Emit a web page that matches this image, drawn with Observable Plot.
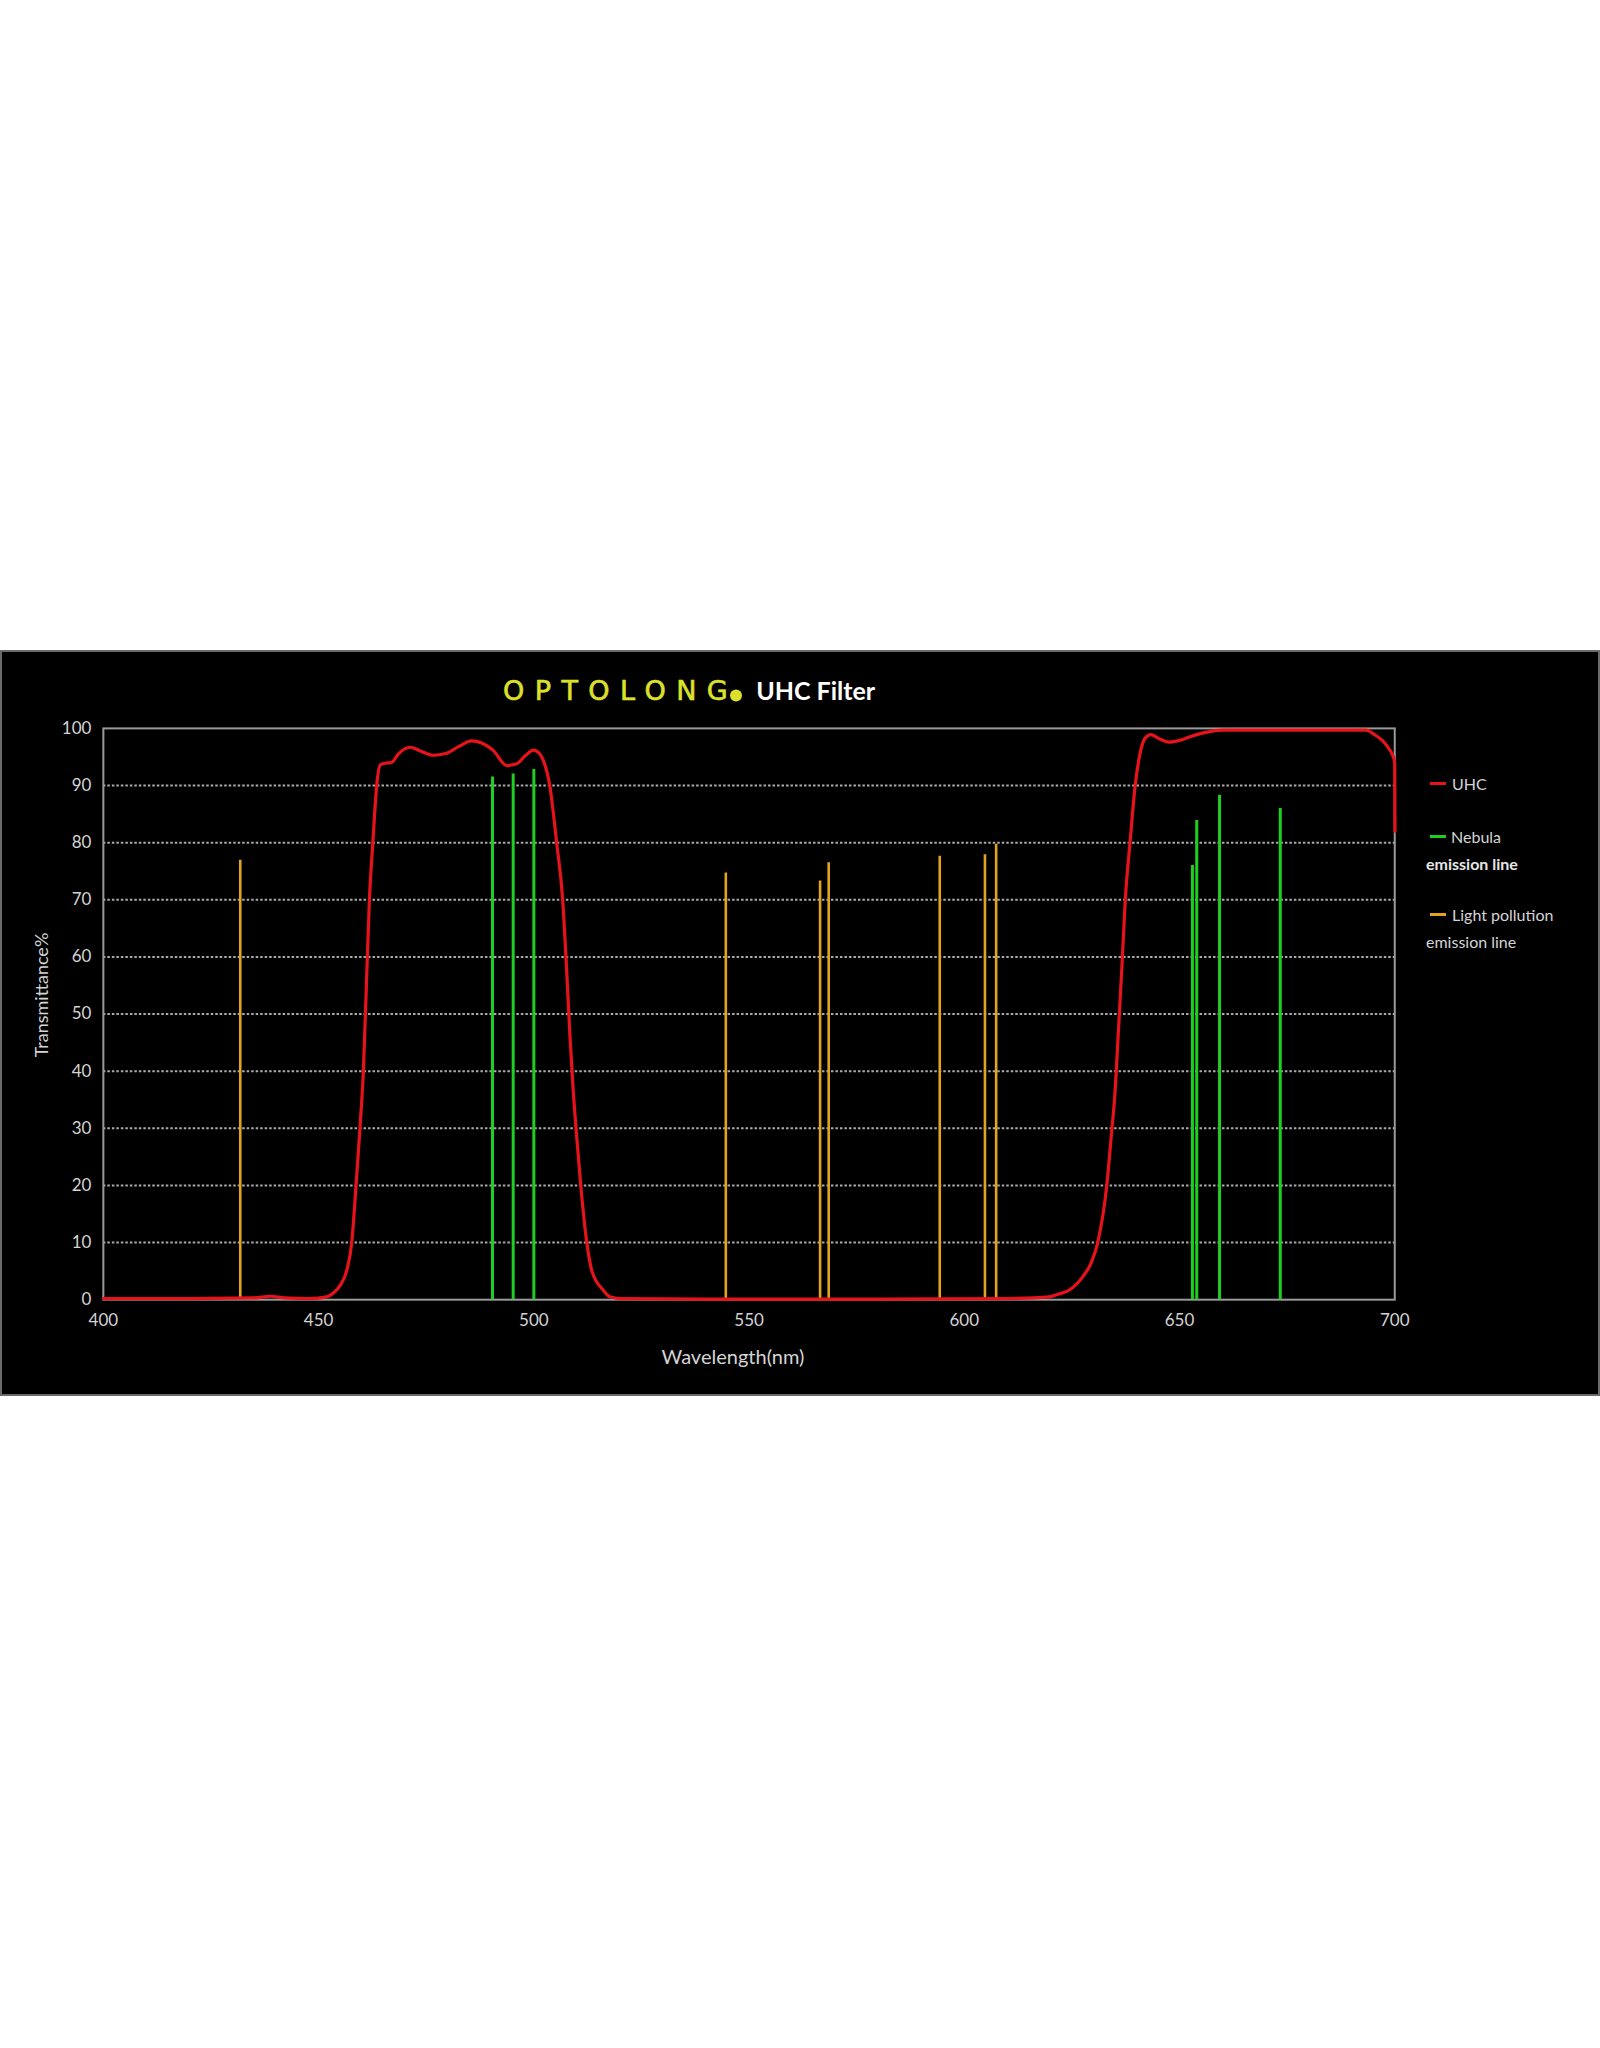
<!DOCTYPE html>
<html>
<head>
<meta charset="utf-8">
<script src="https://cdn.jsdelivr.net/npm/d3@7"></script>
<script src="https://cdn.jsdelivr.net/npm/@observablehq/plot@0.6"></script>
<style>
  html, body { margin: 0; padding: 0; background: #fff; width: 1600px; height: 2048px; font-family: Lato, "Open Sans", sans-serif; }
  #box { position: absolute; left: 0; top: 650px; width: 1600px; height: 746px; background: #000; box-sizing: border-box; border: 2px solid #6a6a6a; }
  #chart { position: absolute; left: -2px; top: -2px; }
  .t { position: absolute; white-space: nowrap; color: #d4d4d4; }
  .c { transform: translate(-50%, -50%); }
  .l { transform: translateY(-50%); }
  .sw { position: absolute; width: 16px; height: 3px; }
</style>
</head>
<body>
<div id="box">
  <div id="chart"></div>
</div>
<script>
// ---- data ----
const xTicks = [400, 450, 500, 550, 600, 650, 700];
const yTicks = [0, 10, 20, 30, 40, 50, 60, 70, 80, 90, 100];

// UHC filter transmission curve
const uhcWl = [400, 420, 435, 438.8, 442, 448, 451.9, 453.5, 455, 456.5, 457.7, 458.7, 459.6, 460.4, 461.1, 461.8, 462.6, 463.5, 464.3, 465.4, 466.9, 468.5, 471.3, 473.5, 476.7, 479.5, 482.5, 485.5, 488, 490.5, 493.7, 496, 498, 499.9, 501.3, 502.2, 503.7, 505.3, 506.7, 507.6, 508.4, 509.2, 509.8, 510.9, 512.3, 513.5, 516.1, 517.7, 520, 540, 580, 610, 619.8, 622, 624.4, 627.5, 629.5, 631.0, 633.1, 634.3, 634.9, 635.8, 636.6, 637.4, 638.5, 639.7, 640.8, 642, 643.4, 645, 647.6, 650, 652.3, 656.1, 660, 693.3, 695.5, 697.1, 698.5, 699.5, 700, 700.05];
const uhcT  = [0.2, 0.2, 0.3, 0.6, 0.3, 0.2, 0.5, 1.2, 2.5, 5, 10, 20, 30, 40, 55, 70, 80, 90, 93.6, 93.9, 94.0, 95.5, 96.7, 96.1, 95.3, 95.6, 96.8, 97.8, 97.4, 96.2, 93.5, 93.8, 95.2, 96.2, 95.6, 94.4, 90, 80, 70, 58, 46, 36, 30, 20, 10, 5, 1.7, 0.5, 0.2, 0.1, 0.1, 0.2, 0.5, 1, 1.7, 4, 6.5, 10, 20, 30, 35, 47, 58, 70, 80, 90, 95.5, 98.3, 98.9, 98.3, 97.6, 97.9, 98.5, 99.3, 99.7, 99.7, 98.8, 97.9, 96.6, 95.3, 94, 82];

// Nebula emission lines
const nebulaWl = [490.4, 495.2, 500.0, 653.0, 654.0, 659.3, 673.4];
const nebulaT  = [91.5, 92.0, 92.8, 76.0, 83.9, 88.3, 86.0];

// Light pollution emission lines
const pollutionWl = [431.8, 544.6, 566.5, 568.5, 594.3, 604.8, 607.4];
const pollutionT  = [76.9, 74.7, 73.3, 76.5, 77.6, 77.9, 79.7];

const uhc = uhcWl.map((w, i) => ({w, t: uhcT[i]}));
const nebula = nebulaWl.map((w, i) => ({w, t: nebulaT[i]}));
const pollution = pollutionWl.map((w, i) => ({w, t: pollutionT[i]}));

const RED = "#e8121b", GREEN = "#1fcf1f", ORANGE = "#e0a41e";

const chart = Plot.plot({
  width: 1600,
  height: 746,
  marginLeft: 103,
  marginRight: 204,
  marginTop: 78,
  marginBottom: 96,
  style: { background: "transparent", color: "#d4d4d4", fontFamily: "Lato, sans-serif", fontSize: "17px" },
  x: { domain: [400, 700], label: null },
  y: { domain: [0, 100], label: null },
  marks: [
    Plot.gridY(yTicks.filter(d => d > 0 && d < 100), { stroke: "#c8c8c8", strokeOpacity: 0.85, strokeWidth: 2, strokeDasharray: "2.5,2" }),
    Plot.frame({ stroke: "#9a9a9a", strokeWidth: 2 }),
    Plot.axisX(xTicks, { tickSize: 0, tickPadding: 14, fill: "#d4d4d4", fontSize: 17, label: null }),
    Plot.axisY(yTicks, { tickSize: 0, tickPadding: 12, fill: "#d4d4d4", fontSize: 17, label: null }),
    Plot.ruleX(pollution, { x: "w", y1: 0, y2: "t", stroke: ORANGE, strokeWidth: 2.6 }),
    Plot.ruleX(nebula, { x: "w", y1: 0, y2: "t", stroke: GREEN, strokeWidth: 3 }),
    Plot.line(uhc, { x: "w", y: "t", stroke: RED, strokeWidth: 3.2, curve: "monotone-x" })
  ]
});
document.getElementById("chart").appendChild(chart);

// Title, axis titles and legend
const box = document.getElementById("box");
function addText(html, x, y, cls, style) {
  const d = document.createElement("div");
  d.className = "t " + cls;
  d.innerHTML = html;
  d.style.left = x + "px";
  d.style.top = (y - 650) + "px";
  Object.assign(d.style, style || {});
  box.appendChild(d);
  return d;
}
function addSwatch(color, x, y) {
  const d = document.createElement("div");
  d.className = "sw";
  d.style.background = color;
  d.style.left = x + "px";
  d.style.top = (y - 650 - 1.5) + "px";
  box.appendChild(d);
}

addText('<span style="color:#dde02a;font-family:\'DejaVu Sans\',sans-serif;font-weight:400;letter-spacing:10px;font-size:26px;display:inline-block;transform:scaleX(1.04);transform-origin:left center;margin-right:9px;-webkit-text-stroke:0.6px #dde02a;">OPTOLONG</span><span style="display:inline-block;width:12px;height:12px;border-radius:50%;background:#dde02a;vertical-align:middle;margin-left:-8px;margin-right:14px;"></span><span style="color:#fff;font-weight:700;font-size:25px;">UHC Filter</span>', 501, 688, "l", {});

addText("Transmittance%", 39, 993, "c", { transform: "translate(-50%,-50%) rotate(-90deg)", fontSize: "18px" });
addText("Wavelength(nm)", 731, 1354, "c", { fontSize: "20px" });

addSwatch(RED, 1428, 781);
addText("UHC", 1450, 781, "l", { fontSize: "16px" });
addSwatch(GREEN, 1428, 834);
addText("Nebula", 1449, 834, "l", { fontSize: "16px" });
addText("emission line", 1424, 861, "l", { fontSize: "16px", fontWeight: "700", color: "#e6e6e6" });
addSwatch(ORANGE, 1428, 912);
addText("Light pollution", 1450, 912, "l", { fontSize: "16px" });
addText("emission line", 1424, 939, "l", { fontSize: "16px" });
</script>
</body>
</html>
